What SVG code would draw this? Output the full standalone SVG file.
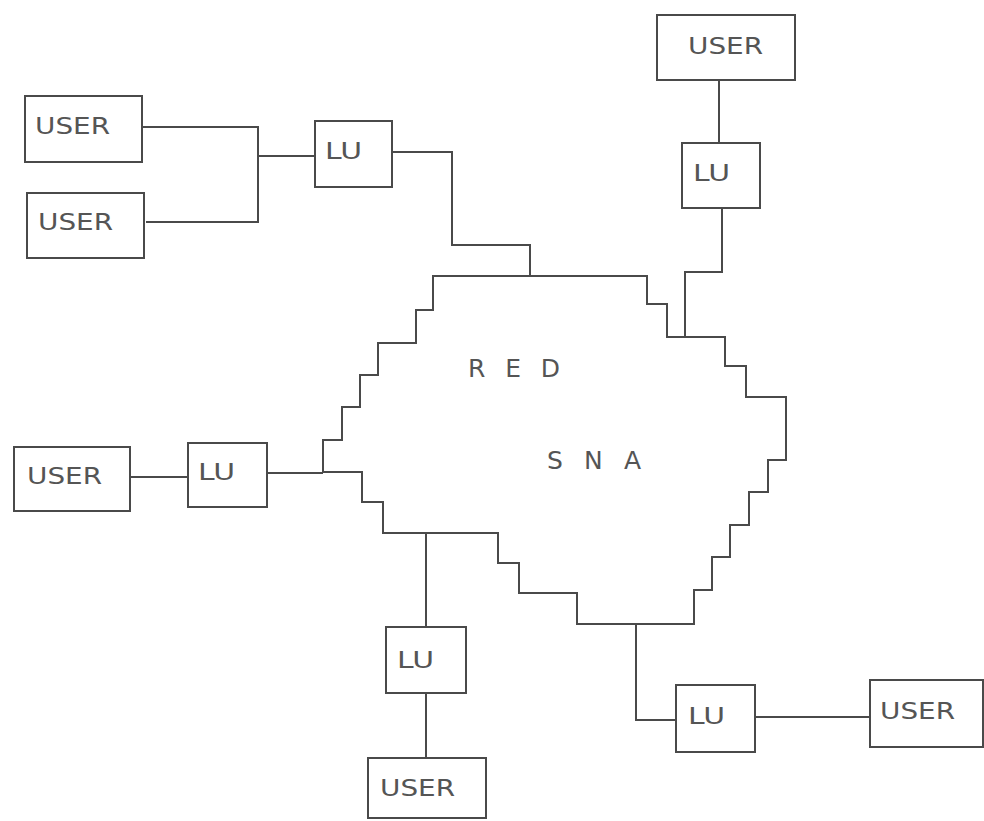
<svg xmlns="http://www.w3.org/2000/svg" width="984" height="821" viewBox="0 0 984 821">
<style>
.box{fill:#fff;stroke:#4a4a4a;stroke-width:2}
.ln{fill:none;stroke:#4a4a4a;stroke-width:2}
.t{font-family:"DejaVu Sans","Liberation Sans",sans-serif;font-size:23px;fill:#555}
.big{font-family:"DejaVu Sans","Liberation Sans",sans-serif;font-size:25px;fill:#555}
</style>
<rect width="984" height="821" fill="#fff"/>
<g id="connectors">
<path class="ln" d="M142,127 H258 V222 H146 M258,156 H315"/>
<path class="ln" d="M392,152 H452 V245 H530 V276"/>
<path class="ln" d="M719,80 V143 M722,208 V272 H685 V337"/>
<path class="ln" d="M130,477 H188 M267,473 H323"/>
<path class="ln" d="M426,533 V627 M426,693 V758"/>
<path class="ln" d="M636,624 V720 H676 M755,717 H870"/>
</g>
<g id="red-sna">
<path class="ln" d="M433,276 H647 V304 H667 V337 H725 V366 H746 V397 H786 V460 H768 V492 H749 V525 H730 V557 H712 V590 H694 V624 H577 V593 H519 V563 H498 V533 H383 V502 H362 V472 H323 V440 H342 V407 H360 V375 H378 V343 H416 V310 H433 Z"/>
<text class="big" x="468" y="377" textLength="92" lengthAdjust="spacing">R E D</text>
<text class="big" x="547" y="469" textLength="94" lengthAdjust="spacing">S N A</text>
</g>
<g id="user-tl1"><rect class="box" x="25" y="96" width="117" height="66"/><text class="t" x="35" y="134" textLength="75" lengthAdjust="spacingAndGlyphs">USER</text></g>
<g id="user-tl2"><rect class="box" x="27" y="193" width="117" height="65"/><text class="t" x="38" y="230" textLength="75" lengthAdjust="spacingAndGlyphs">USER</text></g>
<g id="lu-tl"><rect class="box" x="315" y="121" width="77" height="66"/><text class="t" x="325" y="159" textLength="37" lengthAdjust="spacingAndGlyphs">LU</text></g>
<g id="user-tr"><rect class="box" x="657" y="15" width="138" height="65"/><text class="t" x="688" y="54" textLength="75" lengthAdjust="spacingAndGlyphs">USER</text></g>
<g id="lu-tr"><rect class="box" x="682" y="143" width="78" height="65"/><text class="t" x="693" y="181" textLength="37" lengthAdjust="spacingAndGlyphs">LU</text></g>
<g id="user-l"><rect class="box" x="14" y="447" width="116" height="64"/><text class="t" x="27" y="484" textLength="75" lengthAdjust="spacingAndGlyphs">USER</text></g>
<g id="lu-l"><rect class="box" x="188" y="443" width="79" height="64"/><text class="t" x="198" y="480" textLength="37" lengthAdjust="spacingAndGlyphs">LU</text></g>
<g id="lu-b"><rect class="box" x="386" y="627" width="80" height="66"/><text class="t" x="397" y="668" textLength="37" lengthAdjust="spacingAndGlyphs">LU</text></g>
<g id="user-b"><rect class="box" x="368" y="758" width="118" height="60"/><text class="t" x="380" y="796" textLength="75" lengthAdjust="spacingAndGlyphs">USER</text></g>
<g id="lu-br"><rect class="box" x="676" y="685" width="79" height="67"/><text class="t" x="688" y="724" textLength="37" lengthAdjust="spacingAndGlyphs">LU</text></g>
<g id="user-br"><rect class="box" x="870" y="680" width="113" height="67"/><text class="t" x="880" y="719" textLength="75" lengthAdjust="spacingAndGlyphs">USER</text></g>
</svg>
